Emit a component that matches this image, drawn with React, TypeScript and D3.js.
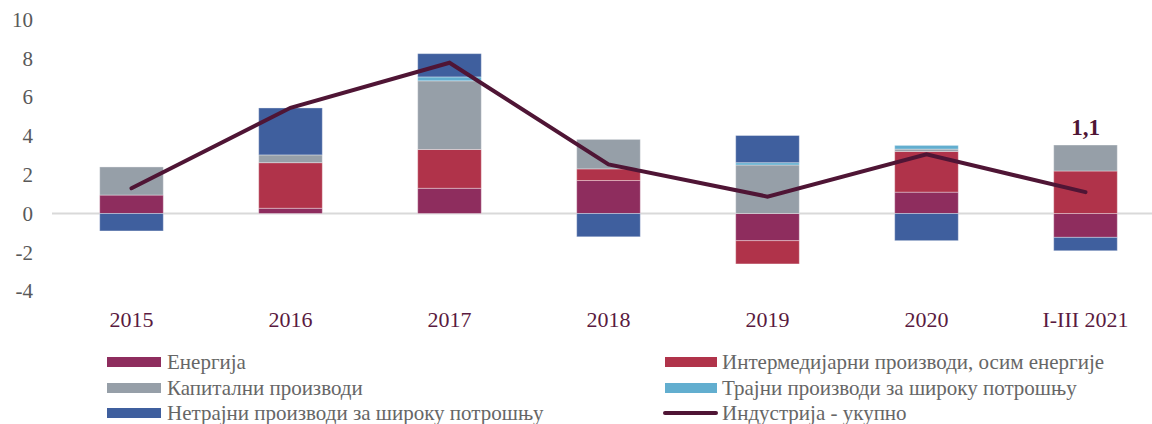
import React from "react";
import * as d3 from "d3";

const categories = ["2015", "2016", "2017", "2018", "2019", "2020", "I-III 2021"];
const energy = [0.95, 0.27, 1.3, 1.7, -1.4, 1.1, -1.23];
const intermediate = [0, 2.35, 2.0, 0.6, -1.2, 2.1, 2.19];
const capital = [1.45, 0.4, 3.54, 1.52, 2.5, 0.12, 1.34];
const durable = [0, 0, 0.2, 0, 0.12, 0.19, 0];
const nondurable = [-0.9, 2.42, 1.2, -1.2, 1.4, -1.4, -0.69];
const total = [1.3, 5.45, 7.77, 2.53, 0.87, 3.05, 1.1];
const yTicks = [-4, -2, 0, 2, 4, 6, 8, 10];
const lastLabel = "1,1";

const seriesKeys = ["energy", "intermediate", "capital", "durable", "nondurable"];
const seriesNames = [
  "Енергија",
  "Интермедијарни производи, осим енергије",
  "Капитални производи",
  "Трајни производи за широку потрошњу",
  "Нетрајни производи за широку потрошњу",
];
const lineName = "Индустрија - укупно";
const colors = ["#8e2d5e", "#b0334a", "#969fa8", "#62aecf", "#3f5f9e"];
const lineColor = "#4f1535";

export default function App() {
  const W = 1152, H = 424;
  const font = "'Liberation Serif', 'Times New Roman', serif";
  const x = d3.scaleBand().domain(categories).range([52, 1165]).paddingInner(0.6).paddingOuter(0.3);
  const y = d3.scaleLinear().domain([-4, 10]).range([291.1, 19.5]);
  const rows = categories.map((c, i) => ({
    cat: c,
    energy: energy[i],
    intermediate: intermediate[i],
    capital: capital[i],
    durable: durable[i],
    nondurable: nondurable[i],
  }));
  const stacked = d3.stack<any>().keys(seriesKeys).offset(d3.stackOffsetDiverging)(rows);
  const cx = (c: string) => (x(c) as number) + x.bandwidth() / 2;
  const line = d3.line<number>().x((_, i) => cx(categories[i])).y((v) => y(v));

  const legendLeft = [0, 2, 4];
  const legendRight = [1, 3];
  const rowY = [362, 388, 413];

  return (
    <svg width={W} height={H} style={{ position: "absolute", left: 0, top: 0 }}>
      <rect width={W} height={H} fill="#fff" />
      <line x1={52} x2={W} y1={y(0)} y2={y(0)} stroke="#d9d9d9" strokeWidth={2} />
      {yTicks.map((t) => (
        <text key={t} x={33} y={y(t)} dy="0.35em" textAnchor="end" fontFamily={font} fontSize={21} fill="#595959">
          {t}
        </text>
      ))}
      {stacked.map((s, si) =>
        s.map((d, i) => {
          const v0 = d[0], v1 = d[1];
          if (Math.abs(v1 - v0) < 1e-9) return null;
          return (
            <rect
              key={si + "-" + i}
              x={x(categories[i])}
              width={x.bandwidth()}
              y={y(Math.max(v0, v1))}
              height={Math.abs(y(v0) - y(v1))}
              fill={colors[si]}
              stroke="#ffffff"
              strokeOpacity={0.35}
              strokeWidth={1}
            />
          );
        })
      )}
      <path d={line(total) || ""} fill="none" stroke={lineColor} strokeWidth={4} strokeLinecap="round" strokeLinejoin="miter" />
      <text
        x={cx(categories[categories.length - 1])}
        y={y(3.53) - 10}
        textAnchor="middle"
        fontFamily={font}
        fontSize={23}
        fontWeight="bold"
        fill="#4f1535"
      >
        {lastLabel}
      </text>
      {categories.map((c) => (
        <text key={c} x={cx(c)} y={327} textAnchor="middle" fontFamily={font} fontSize={22} fill="#5a1a40">
          {c}
        </text>
      ))}
      {legendLeft.map((si, r) => (
        <g key={"l" + si}>
          <rect x={107} y={rowY[r] - 5} width={54} height={10} fill={colors[si]} />
          <text x={167} y={rowY[r]} dy="0.35em" fontFamily={font} fontSize={21} fill="#666">
            {seriesNames[si]}
          </text>
        </g>
      ))}
      {legendRight.map((si, r) => (
        <g key={"r" + si}>
          <rect x={665} y={rowY[r] - 5} width={52} height={10} fill={colors[si]} />
          <text x={722} y={rowY[r]} dy="0.35em" fontFamily={font} fontSize={21} fill="#666">
            {seriesNames[si]}
          </text>
        </g>
      ))}
      <line x1={665} x2={716} y1={rowY[2]} y2={rowY[2]} stroke={lineColor} strokeWidth={4} strokeLinecap="round" />
      <text x={722} y={rowY[2]} dy="0.35em" fontFamily={font} fontSize={21} fill="#666">
        {lineName}
      </text>
    </svg>
  );
}
